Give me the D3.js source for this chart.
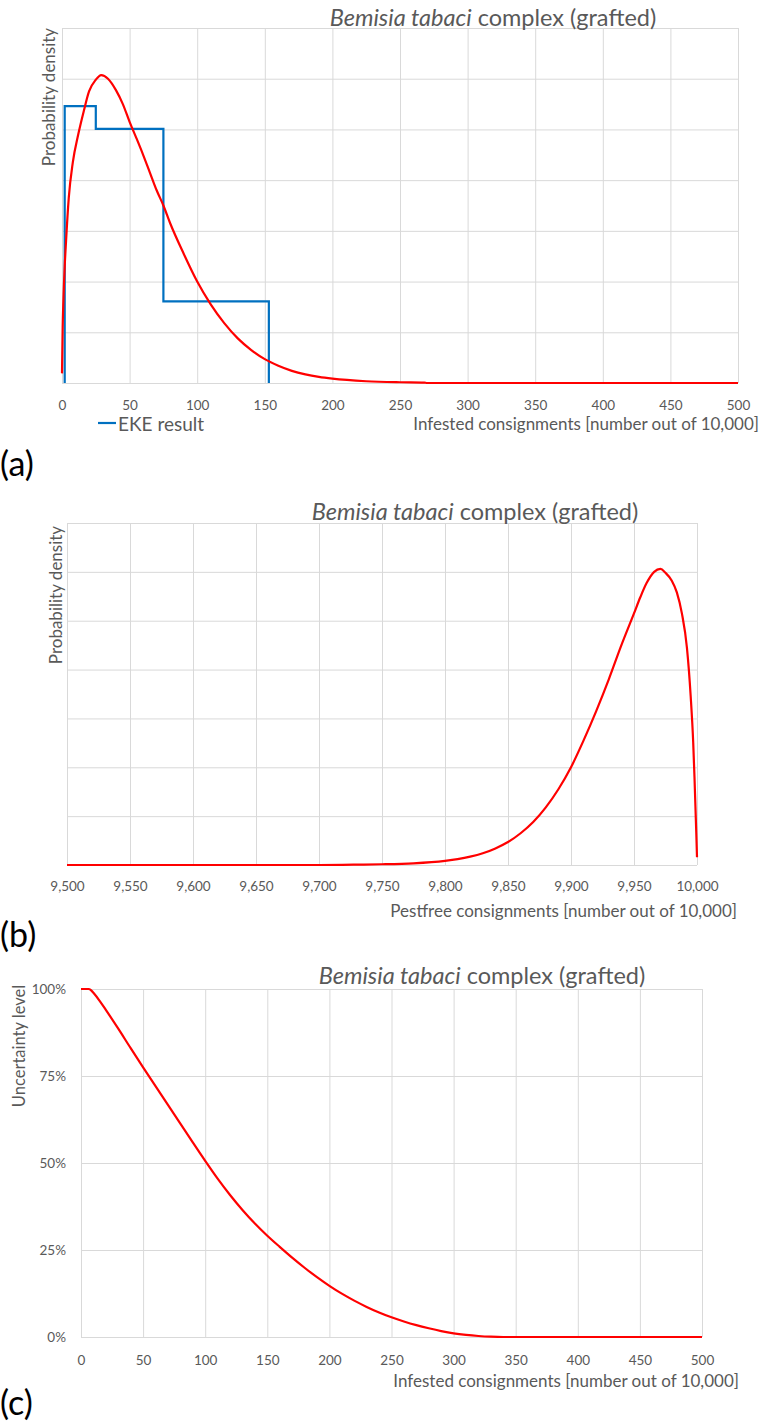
<!DOCTYPE html>
<html>
<head>
<meta charset="utf-8">
<script src="https://cdn.jsdelivr.net/npm/d3@7"></script>
<style>
body{margin:0;background:#fff;}
svg{display:block;font-family:Lato, "Open Sans", sans-serif;}
.grid line{stroke:#d9d9d9;stroke-width:1;}
.grid path{display:none;}
.ticks path,.ticks line{display:none;}
.ticks text{fill:#595959;font-size:13.5px;font-family:Lato, sans-serif;}
.title{fill:#595959;font-size:23.5px;}
.axtitle{fill:#595959;font-size:17px;}
.legend{fill:#595959;font-size:19px;}
.panel{fill:#000;font-size:34px;}
.dens{fill:none;stroke:#ff0000;stroke-width:2.2;}
.eke{fill:none;stroke:#0070c0;stroke-width:2.2;}
</style>
</head>
<body>
<div id="chart"></div>
<script>
const svgWidth = 767;
const svgHeight = 1423;

// (a) density of infested consignments
const infestedX = [0, 0.5, 1, 2, 3, 5, 8, 12, 16, 20, 25, 29, 34, 40, 45, 50, 55, 60, 65, 70, 75, 80, 90, 100, 110, 120, 130, 140, 150, 160, 170, 180, 190, 200, 225, 250, 268, 270, 300, 400, 500];
const infestedDensity = [0.19, 1.1, 1.6, 2.3, 2.8, 3.65, 4.35, 4.9, 5.35, 5.75, 5.98, 6.07, 6.0, 5.77, 5.5, 5.15, 4.83, 4.5, 4.15, 3.8, 3.5, 3.15, 2.55, 2.0, 1.55, 1.18, 0.88, 0.65, 0.47, 0.34, 0.24, 0.17, 0.12, 0.085, 0.035, 0.015, 0.008, 0, 0, 0, 0];

// EKE result histogram (bin edges and heights)
const ekeEdges = [2, 25, 75, 153];
const ekeHeights = [5.46, 5.01, 1.61];

// (b) density of pestfree consignments
const pestfreeX = [9500, 9700, 9732, 9750, 9775, 9800, 9810, 9820, 9830, 9840, 9850, 9860, 9870, 9880, 9890, 9900, 9910, 9920, 9930, 9940, 9950, 9955, 9960, 9966, 9971, 9975, 9980, 9984, 9988, 9992, 9995, 9997, 9998, 9999.5, 10000];
const pestfreeDensity = [0, 0, 0.008, 0.015, 0.035, 0.085, 0.12, 0.17, 0.24, 0.34, 0.47, 0.65, 0.88, 1.18, 1.55, 2.0, 2.55, 3.15, 3.8, 4.5, 5.15, 5.48, 5.77, 6.0, 6.06, 5.98, 5.82, 5.58, 5.15, 4.45, 3.45, 2.5, 1.8, 0.6, 0.16];

// (c) uncertainty level (%)
const levelX = [0, 6, 8, 10, 15, 20, 30, 40, 50, 60, 70, 80, 90, 100, 110, 120, 130, 140, 150, 160, 170, 180, 190, 200, 210, 220, 230, 240, 250, 260, 270, 280, 290, 300, 310, 320, 330, 340, 400, 500];
const levelPct = [100, 100, 99.7, 98.9, 96.6, 94.0, 88.6, 83.0, 77.5, 72.1, 66.7, 61.3, 55.9, 50.6, 45.5, 40.8, 36.5, 32.6, 29.1, 25.9, 22.8, 19.9, 17.2, 14.7, 12.45, 10.45, 8.65, 7.05, 5.65, 4.45, 3.4, 2.5, 1.7, 1.05, 0.6, 0.28, 0.08, 0, 0, 0];

const infestedTicks = [0, 50, 100, 150, 200, 250, 300, 350, 400, 450, 500];
const pestfreeTicks = [9500, 9550, 9600, 9650, 9700, 9750, 9800, 9850, 9900, 9950, 10000];
const densityGrid = [0, 1, 2, 3, 4, 5, 6, 7];
const levelTicks = [0, 25, 50, 75, 100];

const titleItalic = "Bemisia tabaci";
const titleRest = " complex (grafted)";

document.addEventListener("DOMContentLoaded", function(event){
  drawChart();
});

function drawPanel(svg, p){
  const g = svg.append("g");
  const x = d3.scaleLinear().domain(p.xDomain).range([p.left, p.right]);
  const y = d3.scaleLinear().domain(p.yDomain).range([p.bottom, p.top]);

  // grid
  g.append("g").attr("class","grid")
    .attr("transform","translate(0," + p.bottom + ")")
    .call(d3.axisBottom(x).tickValues(p.xTicks).tickSize(-(p.bottom - p.top)).tickFormat(""));
  g.append("g").attr("class","grid")
    .attr("transform","translate(" + p.left + ",0)")
    .call(d3.axisLeft(y).tickValues(p.yGrid).tickSize(-(p.right - p.left)).tickFormat(""));

  // tick labels
  const xt = g.append("g").attr("class","ticks")
    .attr("transform","translate(0," + p.bottom + ")")
    .call(d3.axisBottom(x).tickValues(p.xTicks).tickSize(0).tickPadding(0).tickFormat(p.xFormat));
  xt.selectAll("text").attr("dy", null).attr("y", p.xLabelY - p.bottom).attr("dominant-baseline","central");

  if (p.yFormat){
    g.append("g").attr("class","ticks")
      .attr("transform","translate(" + p.left + ",0)")
      .call(d3.axisLeft(y).tickValues(p.yGrid).tickSize(0).tickPadding(15).tickFormat(p.yFormat));
  }

  // title
  const t = g.append("text").attr("class","title")
    .attr("x", p.titleX).attr("y", p.titleY)
    .attr("text-anchor","middle").attr("dominant-baseline","central");
  t.append("tspan").attr("font-style","italic").text(titleItalic);
  t.append("tspan").text(titleRest);

  // y axis title
  g.append("text").attr("class","axtitle")
    .attr("transform","translate(" + p.yTitleX + "," + p.yTitleY + ")rotate(-90)")
    .attr("text-anchor","middle").attr("dominant-baseline","central")
    .style("font-size", p.yTitleSize + "px")
    .text(p.yTitle);

  // x axis title
  g.append("text").attr("class","axtitle")
    .attr("x", p.xTitleRight).attr("y", p.xTitleY)
    .attr("text-anchor","end").attr("dominant-baseline","central")
    .text(p.xTitle);

  // panel letter
  g.append("text").attr("class","panel")
    .attr("x", 0).attr("y", p.letterY)
    .attr("dominant-baseline","central")
    .text(p.letter);

  return {g: g, x: x, y: y};
}

function drawChart(){
  const svg = d3.select("#chart").append("svg")
    .attr("width", svgWidth).attr("height", svgHeight);

  // (a)
  const a = drawPanel(svg, {
    left: 62, right: 738, top: 28, bottom: 383,
    xDomain: [0, 500], yDomain: [0, 7],
    xTicks: infestedTicks, yGrid: densityGrid,
    xFormat: d3.format("d"), yFormat: null,
    xLabelY: 405,
    titleX: 493, titleY: 17,
    yTitle: "Probability density", yTitleX: 48, yTitleY: 97, yTitleSize: 17,
    xTitle: "Infested consignments [number out of 10,000]", xTitleRight: 759, xTitleY: 423,
    letter: "(a)", letterY: 462
  });

  const ekePts = [];
  ekeHeights.forEach(function(h, i){
    if (i === 0) ekePts.push([ekeEdges[0], 0]);
    ekePts.push([ekeEdges[i], h]);
    ekePts.push([ekeEdges[i + 1], h]);
  });
  ekePts.push([ekeEdges[ekeEdges.length - 1], 0]);

  a.g.append("path").datum(ekePts).attr("class","eke")
    .attr("d", d3.line().x(function(d){ return a.x(d[0]); }).y(function(d){ return a.y(d[1]); }));

  const aLine = d3.line()
    .x(function(d, i){ return a.x(infestedX[i]); })
    .y(function(d){ return a.y(d); })
    .curve(d3.curveMonotoneX);
  a.g.append("path").datum(infestedDensity).attr("class","dens").attr("d", aLine);

  // legend
  a.g.append("line").attr("x1", 98).attr("x2", 116).attr("y1", 423).attr("y2", 423)
    .attr("stroke","#0070c0").attr("stroke-width", 2.2);
  a.g.append("text").attr("class","legend")
    .attr("x", 118).attr("y", 423).attr("dominant-baseline","central")
    .text("EKE result");

  // (b)
  const b = drawPanel(svg, {
    left: 67, right: 697, top: 523, bottom: 865,
    xDomain: [9500, 10000], yDomain: [0, 7],
    xTicks: pestfreeTicks, yGrid: densityGrid,
    xFormat: d3.format(","), yFormat: null,
    xLabelY: 886,
    titleX: 475, titleY: 511,
    yTitle: "Probability density", yTitleX: 55, yTitleY: 595, yTitleSize: 17,
    xTitle: "Pestfree consignments [number out of 10,000]", xTitleRight: 737, xTitleY: 910,
    letter: "(b)", letterY: 933
  });

  const bLine = d3.line()
    .x(function(d, i){ return b.x(pestfreeX[i]); })
    .y(function(d){ return b.y(d); })
    .curve(d3.curveMonotoneX);
  b.g.append("path").datum(pestfreeDensity).attr("class","dens").attr("d", bLine);

  // (c)
  const c = drawPanel(svg, {
    left: 81, right: 702, top: 989, bottom: 1337,
    xDomain: [0, 500], yDomain: [0, 100],
    xTicks: infestedTicks, yGrid: levelTicks,
    xFormat: d3.format("d"), yFormat: function(d){ return d + "%"; },
    xLabelY: 1360,
    titleX: 482, titleY: 975,
    yTitle: "Uncertainty level", yTitleX: 19, yTitleY: 1046, yTitleSize: 16.5,
    xTitle: "Infested consignments [number out of 10,000]", xTitleRight: 739, xTitleY: 1380,
    letter: "(c)", letterY: 1401
  });

  const cLine = d3.line()
    .x(function(d, i){ return c.x(levelX[i]); })
    .y(function(d){ return c.y(d); })
    .curve(d3.curveMonotoneX);
  c.g.append("path").datum(levelPct).attr("class","dens").attr("d", cLine);
}
</script>
</body>
</html>
